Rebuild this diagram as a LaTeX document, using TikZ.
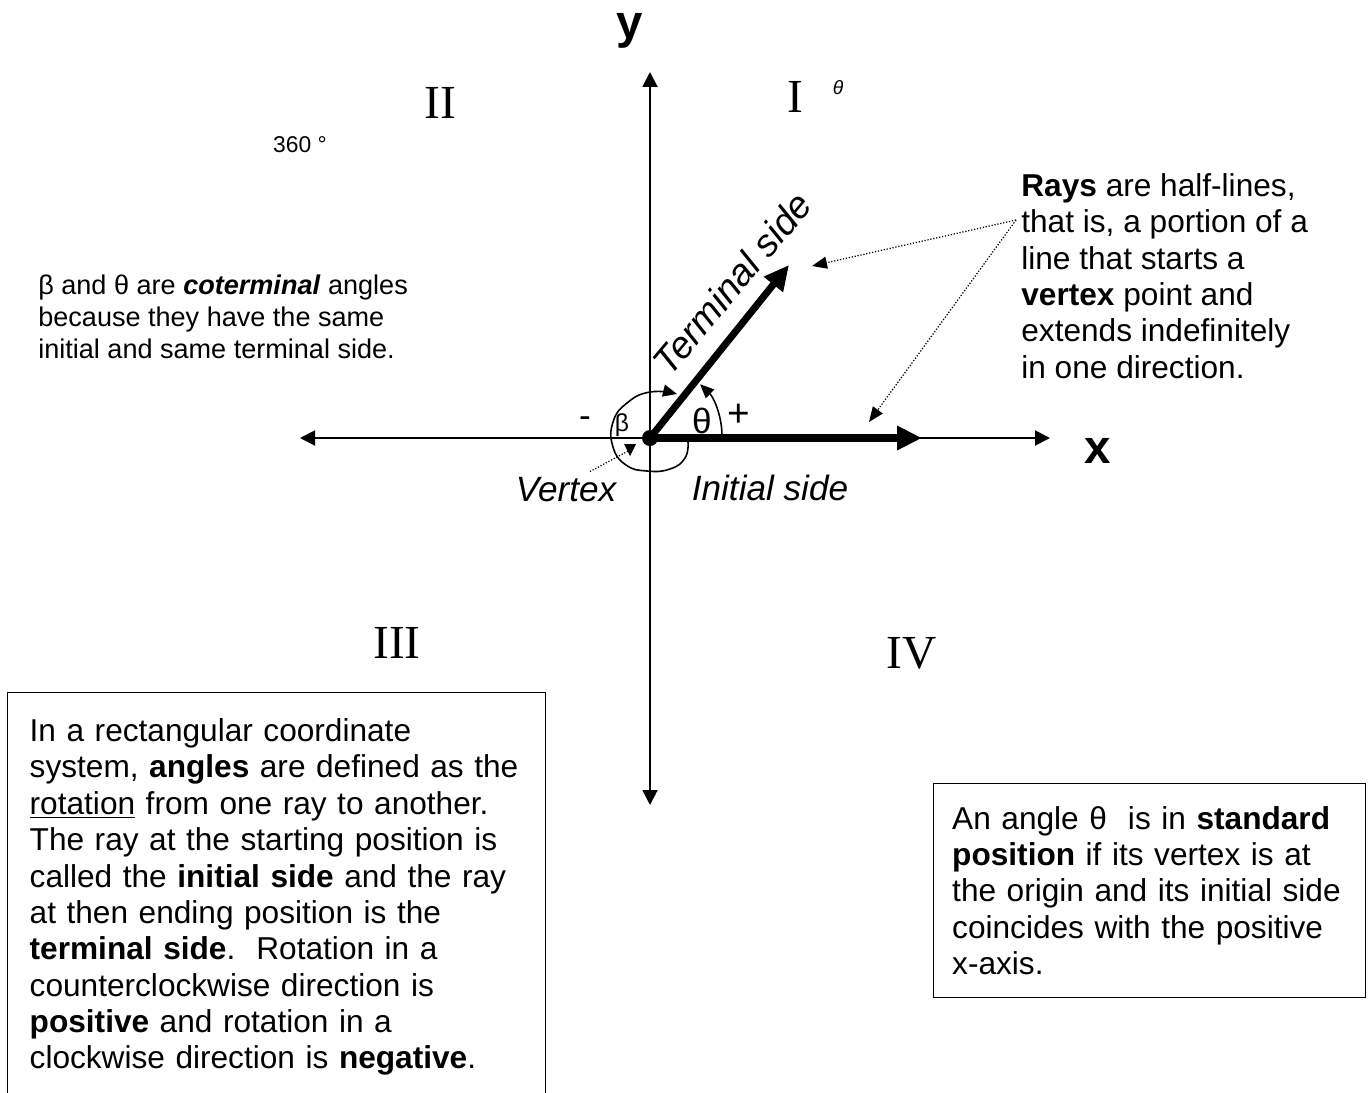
\documentclass[tikz,border=0pt]{standalone}
\usepackage{fontspec}
\setmainfont{Liberation Sans}
\newfontfamily\numeralfont{Liberation Serif}
\usetikzlibrary{arrows.meta}
\newcommand{\OriginX}{650}
\newcommand{\OriginY}{438}
\newcommand{\BodyFont}{\fontsize{18}{20.7}\selectfont}
\newcommand{\NoteFont}{\fontsize{15.4}{18}\selectfont}

\begin{document}
\begin{tikzpicture}[
    x=0.02cm, y=-0.02cm,
    axis/.style={{Triangle[length=0.3cm,width=0.3cm]}-{Triangle[length=0.3cm,width=0.3cm]}, line width=1.1pt},
    side/.style={-{Triangle[length=0.5cm,width=0.46cm]}, line width=4pt},
    pointer/.style={-{Triangle[length=0.3cm,width=0.24cm]}, densely dotted, line width=0.7pt},
    turn/.style={-{Triangle[length=0.28cm,width=0.24cm]}, line width=0.9pt},
    axislabel/.style={font=\bfseries\fontsize{27}{27}\selectfont},
    quadrant/.style={font=\numeralfont\fontsize{27}{27}\selectfont},
    sidelabel/.style={font=\itshape\fontsize{20}{20}\selectfont},
    note/.style={align=left, inner sep=0pt, anchor=north west},
    textbox/.style={draw, line width=0.8pt, align=left, anchor=north west, font=\BodyFont},
  ]
\path[use as bounding box, fill=white] (0,0) rectangle (1368,1092);

% --- Axes ----------------------------------------------------------------------
\coordinate (vertex) at (\OriginX,\OriginY);
\coordinate (xneg) at (300,\OriginY);
\coordinate (xpos) at (1050,\OriginY);
\coordinate (ypos) at (\OriginX,72);
\coordinate (yneg) at (\OriginX,805);
\draw[axis] (xneg) -- (xpos);
\draw[axis] (yneg) -- (ypos);
\node[axislabel] (ylab) at (630,31) {y};
\node[axislabel] (xlab) at (1098,451) {x};

% --- Quadrants -----------------------------------------------------------------
\node[quadrant] (q1) at (795,97) {I};
\node[font=\itshape\fontsize{11}{11}\selectfont] (q1theta) at (838,88) {θ};
\node[quadrant] (q2) at (440,103) {II};
\node[quadrant] (q3) at (397,643) {III};
\node[quadrant] (q4) at (912,653) {IV};
\node[font=\fontsize{13}{13}\selectfont] (fullturn) at (300,145) {360 °};

% --- Initial and terminal sides -------------------------------------------------
\coordinate (termtip) at (789,265);
\coordinate (inittip) at (922,\OriginY);
\draw[side] (vertex) -- (termtip);
\draw[side] (vertex) -- (inittip);
\fill (vertex) circle[radius=8];
\node[sidelabel, rotate=50, font=\itshape\fontsize{21.5}{21.5}\selectfont] (termlab) at (732,283) {Terminal side};
\node[sidelabel] (initlab) at (770,488) {Initial side};
\node[sidelabel] (vertlab) at (566,490) {Vertex};

% --- Angles theta and beta -------------------------------------------------------
\draw[turn] (722,436) arc[start angle=0, end angle=-46, radius=72];
\draw[turn] plot[smooth, tension=0.8] coordinates {(688,442) (685,458) (670,469) (647,471) (626,465) (613,447) (613,422) (627,403) (650,392) (677,394)};
\node[font=\fontsize{20}{20}\selectfont] (minus) at (585,422) {-};
\node[font=\fontsize{14}{14}\selectfont] (betalab) at (622,425) {β};
\node[font=\fontsize{20}{20}\selectfont] (thetalab) at (702,421) {θ};
\node[font=\fontsize{22}{22}\selectfont] (plus) at (739,415) {+};

% --- Vertex marker --------------------------------------------------------------
\coordinate (vmark) at (630,450);
\draw[densely dotted, line width=0.7pt] ([xshift=0.48cm]vertlab.north) -- (vmark);
\fill (vmark) ++(-6,-6) -- ++(12,0) -- ++(-6,12) -- cycle;

% --- Rays note -----------------------------------------------------------------
\coordinate (raysfoot) at (1016,220);
\coordinate (termpoint) at (812,266);
\coordinate (initpoint) at (869,422);
\draw[pointer] (raysfoot) -- (termpoint);
\draw[pointer] (raysfoot) -- (initpoint);
\node[note, font=\BodyFont] (rays) at (1021,173)
  {\textbf{Rays} are half-lines,\\
   that is, a portion of a\\
   line that starts a\\
   \textbf{vertex} point and\\
   extends indefinitely\\
   in one direction.};

% --- Coterminal note -----------------------------------------------------------
\node[note, font=\NoteFont] (coterm) at (38,275)
  {β and θ are \textbf{\textit{coterminal}} angles\\
   because they have the same\\
   initial and same terminal side.};

% --- Boxes ---------------------------------------------------------------------
\node[textbox, text width=9.88cm, inner xsep=0.44cm, inner ysep=0.52cm] (anglebox) at (7,692)
  {In a rectangular coordinate\\
   system, \textbf{angles} are defined as the\\
   \underline{rotation} from one ray to another.\\
   The ray at the starting position is\\
   called the \textbf{initial side} and the ray\\
   at then ending position is the\\
   \textbf{terminal side}.\ \ Rotation in a\\
   counterclockwise direction is\\
   \textbf{positive} and rotation in a\\
   clockwise direction is \textbf{negative}.};
\node[textbox, text width=7.9cm, inner xsep=0.37cm, minimum height=4.28cm] (stdbox) at (933,783)
  {An angle θ\ \ is in \textbf{standard}\\
   \textbf{position} if its vertex is at\\
   the origin and its initial side\\
   coincides with the positive\\
   x-axis.};

\end{tikzpicture}
\end{document}
